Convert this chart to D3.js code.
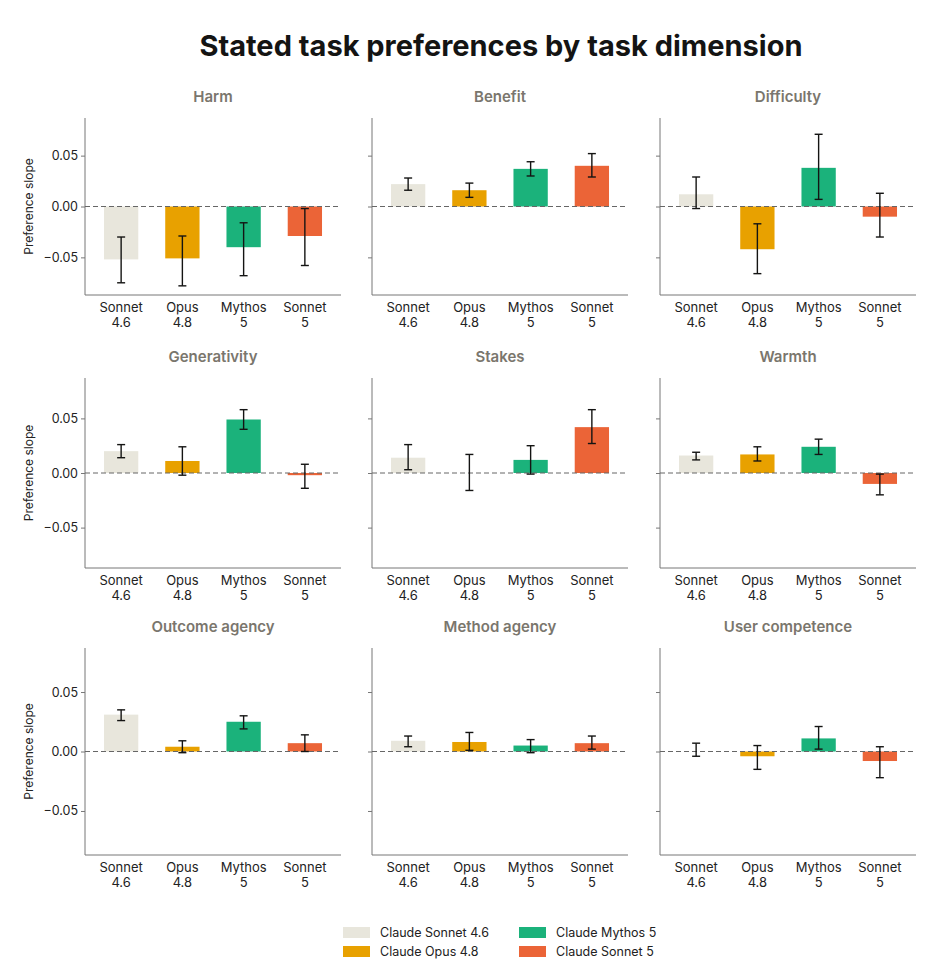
<!DOCTYPE html>
<html><head><meta charset="utf-8">
<script src="https://cdn.jsdelivr.net/npm/d3@7"></script>
<style>body{margin:0;background:#fff;font-family:Inter,"Noto Sans",sans-serif;}</style>
</head><body><div id="container"></div>
<script>
// data
const models = ['Sonnet 4.6', 'Opus 4.8', 'Mythos 5', 'Sonnet 5'];
const legendNames = ['Claude Sonnet 4.6', 'Claude Opus 4.8', 'Claude Mythos 5', 'Claude Sonnet 5'];
const colors = ['#e8e6dc', '#e8a100', '#1bb27b', '#eb6437'];
const dims = ['Harm', 'Benefit', 'Difficulty', 'Generativity', 'Stakes', 'Warmth', 'Outcome agency', 'Method agency', 'User competence'];
const means = [
  [-0.052, -0.051, -0.040, -0.029],
  [0.022, 0.016, 0.037, 0.040],
  [0.012, -0.042, 0.038, -0.010],
  [0.020, 0.011, 0.049, -0.002],
  [0.014, 0.000, 0.012, 0.042],
  [0.016, 0.017, 0.024, -0.010],
  [0.031, 0.004, 0.025, 0.007],
  [0.009, 0.008, 0.005, 0.007],
  [0.000, -0.004, 0.011, -0.008]
];
const lows = [
  [-0.075, -0.078, -0.068, -0.058],
  [0.016, 0.009, 0.030, 0.029],
  [-0.002, -0.066, 0.007, -0.030],
  [0.014, -0.002, 0.040, -0.014],
  [0.003, -0.016, -0.001, 0.027],
  [0.012, 0.011, 0.017, -0.020],
  [0.026, -0.001, 0.019, 0.000],
  [0.004, 0.001, -0.001, 0.002],
  [-0.004, -0.015, 0.002, -0.022]
];
const highs = [
  [-0.030, -0.029, -0.016, -0.002],
  [0.028, 0.023, 0.044, 0.052],
  [0.029, -0.017, 0.071, 0.013],
  [0.026, 0.024, 0.058, 0.008],
  [0.026, 0.017, 0.025, 0.058],
  [0.019, 0.024, 0.031, -0.001],
  [0.035, 0.009, 0.030, 0.014],
  [0.013, 0.016, 0.010, 0.013],
  [0.007, 0.005, 0.021, 0.004]
];
const yTicks = [-0.05, 0, 0.05];

const W = 952, H = 964;
const svg = d3.select('#container').append('svg').attr('width', W).attr('height', H);

svg.append('text').attr('x', 501).attr('y', 56).attr('text-anchor', 'middle')
  .attr('font-size', 29).attr('font-weight', 700).attr('fill', '#141413')
  .text('Stated task preferences by task dimension');

const colX = [85, 372, 660];
const pw = 256;
const rows = [{top: 118, bottom: 295}, {top: 378, bottom: 568}, {top: 648, bottom: 855}];

dims.forEach((dim, i) => {
  const c = i % 3, r = Math.floor(i / 3);
  const x0 = colX[c], {top, bottom} = rows[r];
  const g = svg.append('g');
  const x = d3.scaleBand().domain(models).range([x0, x0 + pw]).paddingInner(0.44).paddingOuter(0.31);
  const y = d3.scaleLinear().domain([-0.087, 0.087]).range([bottom, top]);

  g.append('text').attr('x', x0 + pw / 2).attr('y', top - 16).attr('text-anchor', 'middle')
    .attr('font-size', 15).attr('font-weight', 600).attr('fill', '#7a766d').text(dim);

  // axes
  const ya = g.append('g').attr('transform', `translate(${x0},0)`)
    .call(d3.axisLeft(y).tickValues(yTicks).tickSize(4)
      .tickFormat(c === 0 ? (d => d3.format('.2f')(d).replace('-', '\u22120')) : ''));
  ya.select('.domain').attr('d', `M0,${top}V${bottom}`);
  const xa = g.append('g').attr('transform', `translate(0,${bottom})`)
    .call(d3.axisBottom(x).tickSize(0).tickFormat(''));
  xa.select('.domain').attr('d', `M${x0},0H${x0 + pw}`);
  g.selectAll('.domain').attr('stroke', '#777');
  g.selectAll('.tick line').attr('stroke', '#777');
  ya.selectAll('text').attr('font-size', 12.5).attr('fill', '#222').attr('font-family', 'Inter,sans-serif');

  models.forEach((m, k) => {
    const lab = g.append('text').attr('x', x(m) + x.bandwidth() / 2).attr('y', bottom + 17)
      .attr('text-anchor', 'middle').attr('font-size', 13).attr('fill', '#222');
    const parts = m.split(' ');
    lab.append('tspan').attr('x', x(m) + x.bandwidth() / 2).text(parts[0]);
    lab.append('tspan').attr('x', x(m) + x.bandwidth() / 2).attr('dy', 15).text(parts[1]);
  });

  if (c === 0) {
    g.append('text').attr('transform', `translate(${x0 - 52},${(top + bottom) / 2}) rotate(-90)`)
      .attr('text-anchor', 'middle').attr('font-size', 12).attr('fill', '#222').text('Preference slope');
  }

  // bars
  g.selectAll('rect.bar').data(means[i]).enter().append('rect')
    .attr('x', (d, k) => x(models[k])).attr('width', x.bandwidth())
    .attr('y', d => y(Math.max(0, d))).attr('height', d => Math.abs(y(d) - y(0)))
    .attr('fill', (d, k) => colors[k]);

  g.append('line').attr('x1', x0).attr('x2', x0 + pw).attr('y1', y(0)).attr('y2', y(0))
    .attr('stroke', '#666').attr('stroke-dasharray', '5,3').attr('stroke-width', 1);

  // error bars
  models.forEach((m, k) => {
    const cx = x(m) + x.bandwidth() / 2;
    const e = g.append('g').attr('stroke', '#141413').attr('stroke-width', 1.4);
    e.append('line').attr('x1', cx).attr('x2', cx).attr('y1', y(lows[i][k])).attr('y2', y(highs[i][k]));
    [lows[i][k], highs[i][k]].forEach(v => e.append('line')
      .attr('x1', cx - 4).attr('x2', cx + 4).attr('y1', y(v)).attr('y2', y(v)));
  });
});

// legend
const lx = [343, 519], ly = [932, 951];
legendNames.forEach((n, k) => {
  const col = k === 0 || k === 1 ? 0 : 1, row = k % 2;
  svg.append('rect').attr('x', lx[col]).attr('y', ly[row] - 5).attr('width', 27).attr('height', 11).attr('fill', colors[k]);
  svg.append('text').attr('x', lx[col] + 37).attr('y', ly[row] + 4.5).attr('font-size', 12.5).attr('fill', '#222').text(n);
});
</script></body></html>
